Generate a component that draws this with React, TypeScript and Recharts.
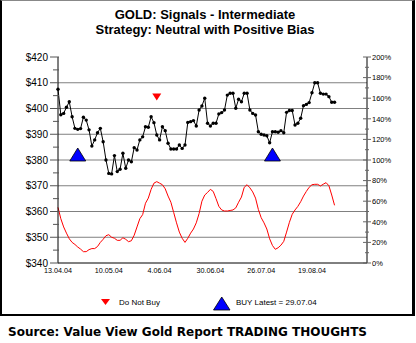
import React from 'react';
import { ComposedChart, Line, Scatter, XAxis, YAxis, ReferenceLine } from 'recharts';

const xTicks = [0, 18, 36, 54, 72, 90];
const xLabels = ['13.04.04', '10.05.04', '4.06.04', '30.06.04', '26.07.04', '19.08.04'];
const priceTicks = [340, 345, 350, 355, 360, 365, 370, 375, 380, 385, 390, 395, 400, 405, 410, 415, 420];
const pctTicks = [0, 10, 20, 30, 40, 50, 60, 70, 80, 90, 100, 110, 120, 130, 140, 150, 160, 170, 180, 190, 200];
const gridValues = [350, 360, 370, 380, 390, 400, 410];

const price = [
  407.5, 397.6, 398.1, 400.5, 402.6, 396.8, 392.3, 391.9, 392.2, 396.6,
  395.5, 391.7, 385.4, 387.8, 390.6, 392.3, 387.1, 380.0, 374.8, 374.6,
  381.7, 375.5, 376.4, 382.6, 376.8, 380.0, 379.3, 384.8, 383.9, 387.8,
  389.0, 392.9, 392.7, 396.8, 394.5, 389.7, 387.8, 392.9, 391.4, 386.5,
  384.3, 384.3, 384.3, 385.8, 384.5, 385.8, 394.6, 394.9, 395.3, 393.2,
  399.4, 401.0, 404.0, 394.3, 393.2, 394.3, 394.3, 397.9, 398.4, 399.4,
  405.2, 405.9, 405.9, 400.1, 403.6, 402.6, 405.9, 405.9, 399.4, 398.1,
  397.5, 391.0, 390.0, 389.7, 389.4, 386.7, 391.0, 391.0, 390.8, 391.4,
  390.6, 398.5, 399.2, 399.2, 393.6, 394.3, 396.2, 401.1, 401.6, 402.3,
  406.1, 410.0, 410.0, 405.9, 405.6, 405.6, 404.6, 402.4, 402.4,
];

const signal = [
  54, 43, 35, 29, 23.5, 20, 18, 15.5, 13.5, 11,
  11, 13, 14, 14, 16, 20, 23, 26.5, 27.5, 25,
  24, 22, 22, 24.5, 23, 20.7, 21.6, 27, 35, 43,
  47, 58, 63, 71.5, 77.5, 79, 77.5, 76, 72, 65,
  59, 49, 39, 30, 24, 20, 24, 29, 33, 39,
  48, 60, 66, 68.5, 71.5, 69.5, 62.5, 55, 51.5, 50.5,
  50.5, 51, 51.5, 53.5, 59, 64, 73.5, 76, 73, 69,
  63, 52, 44, 39, 33, 23.5, 17, 13.3, 14.8, 17.3,
  21, 30, 39.5, 47.3, 51.5, 55, 59.5, 65, 69.5, 73.5,
  76, 76.4, 76.4, 74.8, 76.5, 78, 75, 66, 56,
];

const buyIndex = [7, 76];
const buyLevel = [380, 380];
const doNotBuyIndex = [35];
const doNotBuyLevel = [404.5];

const data = price.map((p, i) => ({ i, price: p, signal: signal[i] }));
const buyData = buyIndex.map((i, k) => ({ i, level: buyLevel[k] }));
const doNotBuyData = doNotBuyIndex.map((i, k) => ({ i, level: doNotBuyLevel[k] }));

const FONT = '"Liberation Sans", Arial, sans-serif';

const LeftTick = (props: any) => {
  const { x, y, payload } = props;
  const v = payload.value;
  const major = v % 10 === 0;
  const ax = x + 10;
  return (
    <g>
      <line x1={major ? ax - 8 : ax - 5} x2={ax + 1} y1={y} y2={y} stroke="#555" strokeWidth={1} />
      {major && (
        <text x={x} y={y} dy={3.6} textAnchor="end" fontSize={10} fontFamily={FONT} fill="#000">
          {'$' + v}
        </text>
      )}
    </g>
  );
};

const RightTick = (props: any) => {
  const { x, y, payload } = props;
  const v = payload.value;
  const major = v % 20 === 0;
  const ax = x - 4;
  return (
    <g>
      <line x1={major ? ax - 4 : ax - 2} x2={major ? ax + 4 : ax + 2} y1={y} y2={y} stroke="#666" strokeWidth={1} />
      {major && (
        <text x={ax + 5} y={y} dy={2.7} textAnchor="start" fontSize={7.5} fontFamily={FONT} fill="#000">
          {v + '%'}
        </text>
      )}
    </g>
  );
};

const XTick = (props: any) => {
  const { x, y, payload } = props;
  const idx = xTicks.indexOf(payload.value);
  return (
    <text x={x} y={y} dy={6} textAnchor="middle" fontSize={7.2} fontFamily={FONT} fill="#000">
      {idx >= 0 ? xLabels[idx] : ''}
    </text>
  );
};

const BuyShape = (props: any) => {
  const { cx, cy } = props;
  return (
    <path
      d={`M${cx - 8},${cy + 1} L${cx + 8},${cy + 1} L${cx},${cy - 12} Z`}
      fill="#0000ff"
      stroke="#000"
      strokeWidth={0.8}
    />
  );
};

const DoNotBuyShape = (props: any) => {
  const { cx, cy } = props;
  return <path d={`M${cx - 4.5},${cy - 3.5} L${cx + 4.5},${cy - 3.5} L${cx},${cy + 3.5} Z`} fill="#ff0000" />;
};

const PriceDot = (props: any) => {
  const { cx, cy, index } = props;
  return <circle key={index} cx={cx} cy={cy} r={1.7} fill="#000" />;
};

export default function App() {
  return (
    <div style={{ position: 'fixed', left: 0, top: 0, width: 416, height: 343, background: '#fff' }}>
      <div
        style={{
          position: 'absolute',
          left: 0,
          top: 0,
          width: 415,
          height: 316,
          boxSizing: 'border-box',
          borderTop: '1px solid #888',
          borderLeft: '2px solid #000',
          borderRight: '3px solid #000',
          borderBottom: '2px solid #000',
        }}
      />
      <div style={{ position: 'absolute', left: 0, top: 0 }}>
        <ComposedChart width={416} height={316} data={data} margin={{ top: 57, right: 19, bottom: 33, left: 8 }}>
          {gridValues.map((g) => (
            <ReferenceLine key={g} y={g} yAxisId="left" stroke="#808080" strokeWidth={1} />
          ))}
          <XAxis
            dataKey="i"
            type="number"
            domain={[0, 109.5]}
            ticks={xTicks}
            interval={0}
            tickLine={false}
            tickSize={0}
            tickMargin={4}
            height={20}
            axisLine={{ stroke: '#000' }}
            tick={<XTick />}
          />
          <YAxis
            yAxisId="left"
            orientation="left"
            domain={[340, 420]}
            ticks={priceTicks}
            interval={0}
            width={50}
            tickSize={8}
            tickMargin={2}
            tickLine={false}
            axisLine={{ stroke: '#000' }}
            tick={<LeftTick />}
          />
          <YAxis
            yAxisId="right"
            orientation="right"
            domain={[0, 200]}
            ticks={pctTicks}
            interval={0}
            width={30}
            tickSize={4}
            tickMargin={0}
            tickLine={false}
            axisLine={{ stroke: '#000' }}
            tick={<RightTick />}
          />
          <Line
            yAxisId="right"
            dataKey="signal"
            type="linear"
            stroke="#ff0000"
            strokeWidth={1}
            dot={false}
            isAnimationActive={false}
          />
          <Line
            yAxisId="left"
            dataKey="price"
            type="linear"
            stroke="#000"
            strokeWidth={1}
            dot={<PriceDot />}
            isAnimationActive={false}
          />
          <Scatter yAxisId="left" data={buyData} dataKey="level" shape={<BuyShape />} isAnimationActive={false} />
          <Scatter yAxisId="left" data={doNotBuyData} dataKey="level" shape={<DoNotBuyShape />} isAnimationActive={false} />
        </ComposedChart>
      </div>
      <svg width={416} height={343} style={{ position: 'absolute', left: 0, top: 0, pointerEvents: 'none' }}>
        <text x={205} y={19} textAnchor="middle" fontSize={13} fontWeight="bold" fontFamily={FONT} fill="#000">
          GOLD: Signals - Intermediate
        </text>
        <text x={205} y={34} textAnchor="middle" fontSize={13} fontWeight="bold" fontFamily={FONT} fill="#000">
          Strategy: Neutral with Positive Bias
        </text>
        <path d="M101,299 L110,299 L105.5,305 Z" fill="#ff0000" />
        <text x={119} y={305} fontSize={8} fontFamily={FONT} fill="#000">Do Not Buy</text>
        <path d="M213.5,310 L230,310 L221.75,297 Z" fill="#0000ff" stroke="#000" strokeWidth={0.8} />
        <text x={236} y={305} fontSize={8} fontFamily={FONT} fill="#000">BUY Latest = 29.07.04</text>
        <text
          x={8}
          y={336}
          fontSize={13}
          fontWeight="bold"
          fontFamily='"DejaVu Sans", Verdana, sans-serif'
          fill="#000"
          textLength={359}
          lengthAdjust="spacingAndGlyphs"
        >
          Source: Value View Gold Report TRADING THOUGHTS
        </text>
      </svg>
    </div>
  );
}
